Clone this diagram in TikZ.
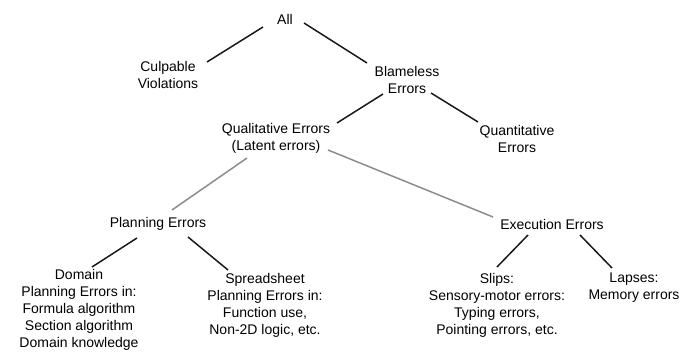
\documentclass[tikz,border=0pt]{standalone}
\usepackage{fontspec}
\setmainfont{Liberation Sans}
\begin{document}
\begin{tikzpicture}[x=1pt,y=-1pt,
  lbl/.style={align=center,font=\fontsize{14}{17}\selectfont,inner sep=1pt},
  edge/.style={line width=1.5pt,black!90},
  latent/.style={line width=1.5pt,black!45}]
\useasboundingbox (0,0) rectangle (694,352);
\node[lbl](all) at (285,19){All};
\node[lbl](culp) at (168,75){Culpable\\Violations};
\node[lbl](blame) at (407,80){Blameless\\Errors};
\node[lbl](quali) at (276,138){Qualitative Errors\\(Latent errors)};
\node[lbl](quanti) at (517,139){Quantitative\\Errors};
\node[lbl](plan) at (158,224){Planning Errors};
\node[lbl](exec) at (552,224){Execution Errors};
\node[lbl](domain) at (79,310){Domain\\Planning Errors in:\\Formula algorithm\\Section algorithm\\Domain knowledge};
\node[lbl](sheet) at (265,305){Spreadsheet\\Planning Errors in:\\Function use,\\Non-2D logic, etc.};
\node[lbl](slips) at (497,305){Slips:\\Sensory-motor errors:\\Typing errors,\\Pointing errors, etc.};
\node[lbl](lapses) at (634,288){Lapses:\\Memory errors};
\draw[edge]([shift={(-22,8)}]all.center)--([shift={(39,-13)}]culp.center);
\draw[edge]([shift={(19,4)}]all.center)--([shift={(-40,-17)}]blame.center);
\draw[edge]([shift={(-24,14)}]blame.center)--([shift={(61,-15)}]quali.center);
\draw[edge]([shift={(24,13)}]blame.center)--([shift={(-39,-17)}]quanti.center);
\draw[latent]([shift={(-29,20)}]quali.center)--([shift={(14,-14)}]plan.center);
\draw[latent]([shift={(52,12)}]quali.center)--([shift={(-59,-7)}]exec.center);
\draw[edge]([shift={(-21,14)}]plan.center)--([shift={(13,-43)}]domain.center);
\draw[edge]([shift={(30,13)}]plan.center)--([shift={(-37,-35)}]sheet.center);
\draw[edge]([shift={(-24,11)}]exec.center)--([shift={(0,-38)}]slips.center);
\draw[edge]([shift={(28,11)}]exec.center)--([shift={(-22,-20)}]lapses.center);
\end{tikzpicture}
\end{document}
